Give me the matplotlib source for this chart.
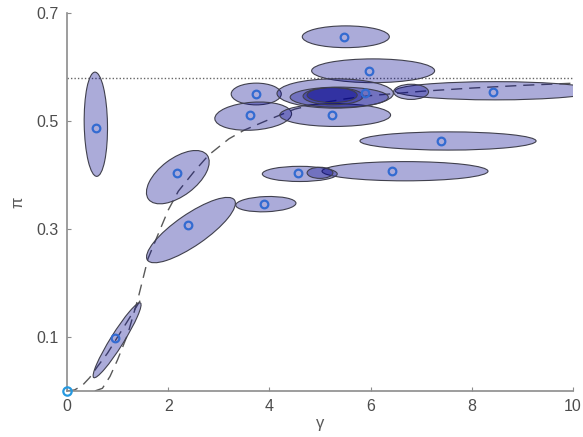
import matplotlib
matplotlib.use("Agg")
import matplotlib.pyplot as plt
from matplotlib.patches import Ellipse
from matplotlib.transforms import Affine2D
import numpy as np

plt.rcParams['font.family'] = ['Liberation Sans', 'DejaVu Sans']

# ---- data ----
# region centres (gamma, pi), major/minor axis lengths in visual gamma units, angle (deg)
ell_gamma = [0.57, 2.19, 2.45, 3.93, 0.99, 5.51, 6.05, 3.74, 3.68, 5.30, 5.30, 5.38, 5.26, 5.24, 8.46, 6.80, 7.53, 6.68, 4.60, 5.00]
ell_pi    = [0.494, 0.396, 0.298, 0.346, 0.094, 0.656, 0.593, 0.550, 0.509, 0.511, 0.551, 0.544, 0.546, 0.548, 0.556, 0.554, 0.463, 0.407, 0.402, 0.404]
ell_major = [2.06, 1.45, 2.09, 1.19, 1.74, 1.72, 2.43, 0.99, 1.52, 2.19, 2.30, 1.94, 1.19, 0.99, 3.95, 0.69, 3.48, 3.28, 1.48, 0.51]
ell_minor = [0.46, 0.74, 0.62, 0.30, 0.26, 0.43, 0.47, 0.43, 0.55, 0.45, 0.58, 0.40, 0.34, 0.30, 0.36, 0.30, 0.36, 0.38, 0.30, 0.22]
ell_angle = [91, 37, 34.6, 2, 58, 0, 0, 0, 4, 0, 0, 0, 0, 0, 0, 0, 0, 0, 0, 0]

pt_gamma = [0.573, 2.17, 2.39, 3.89, 0.95, 5.47, 5.97, 3.74, 3.62, 5.24, 5.89, 8.42, 7.39, 6.42, 4.57]
pt_pi    = [0.487, 0.404, 0.307, 0.346, 0.098, 0.656, 0.593, 0.550, 0.511, 0.511, 0.552, 0.554, 0.463, 0.407, 0.404]
origin_gamma, origin_pi = 0.0, 0.0

curveA_gamma = [0.0, 0.15, 0.3, 0.45, 0.6, 0.8, 1.0, 1.2, 1.45]
curveA_pi    = [0.0, 0.002, 0.010, 0.025, 0.045, 0.070, 0.100, 0.130, 0.168]
curveB_gamma = [0.55, 0.7, 0.85, 1.0, 1.2, 1.4, 1.6, 1.8, 2.0, 2.2, 2.5, 2.8, 3.2, 3.5, 4.0, 4.5, 5.0, 5.5, 6.0, 7.0, 8.0, 9.0, 10.0]
curveB_pi    = [0.0, 0.005, 0.027, 0.058, 0.105, 0.170, 0.245, 0.290, 0.335, 0.370, 0.405, 0.437, 0.467, 0.483, 0.503, 0.522, 0.533, 0.541, 0.547, 0.555, 0.561, 0.566, 0.570]
limit_pi = 0.58

xticks = [0, 2, 4, 6, 8, 10]
yticks = [0.1, 0.3, 0.5, 0.7]

# ---- figure ----
W, H = 583, 437
fig = plt.figure(figsize=(W / 100, H / 100), dpi=100)
L, R, B, T = 67 / W, 573 / W, (H - 391) / H, (H - 13) / H
ax = fig.add_axes([L, B, R - L, T - B])
xmin, xmax, ymin, ymax = 0, 10, 0, 0.7
ax.set_xlim(xmin, xmax)
ax.set_ylim(ymin, ymax)

# visual aspect factor: how many gamma-units one pi-unit spans on screen
ax_w = (R - L) * W
ax_h = (T - B) * H
K = (ax_h / (ymax - ymin)) / (ax_w / (xmax - xmin))
etrans = Affine2D().scale(1, 1 / K) + ax.transData

face = (0.0, 0.0, 0.55, 0.33)
edge = (0.25, 0.25, 0.30, 1.0)
for g, p, a, b, ang in zip(ell_gamma, ell_pi, ell_major, ell_minor, ell_angle):
    e = Ellipse((g, p * K), a, b, angle=ang, transform=etrans,
                facecolor=face, edgecolor=edge, linewidth=0.8, zorder=3)
    ax.add_patch(e)

ax.plot(curveA_gamma, curveA_pi, color=(0.35, 0.35, 0.35), lw=1.0, dashes=(8, 5), zorder=2)
ax.plot(curveB_gamma, curveB_pi, color=(0.35, 0.35, 0.35), lw=1.0, dashes=(8, 5), zorder=2)
ax.axhline(limit_pi, color=(0.4, 0.4, 0.4), lw=1.0, ls=(0, (1, 1.5)), zorder=2)

ax.plot(pt_gamma, pt_pi, ls='none', marker='o', ms=5.5, mfc='none',
        mec=(0.2, 0.42, 0.82), mew=1.6, zorder=5)
ax.plot([origin_gamma], [origin_pi], ls='none', marker='o', ms=6, mfc='none',
        mec=(0.15, 0.6, 0.88), mew=1.6, zorder=6, clip_on=False)

for s in ['top', 'right']:
    ax.spines[s].set_visible(False)
for s in ['left', 'bottom']:
    ax.spines[s].set_color((0.55, 0.55, 0.55))
    ax.spines[s].set_linewidth(1.2)

ax.set_xticks(xticks)
ax.set_yticks(yticks)
ax.set_xticklabels([str(v) for v in xticks])
ax.set_yticklabels([f"{v:.1f}" for v in yticks])
ax.tick_params(direction='in', length=3, width=0.8, colors=(0.55, 0.55, 0.55),
               labelcolor=(0.3, 0.3, 0.3), labelsize=11.5, pad=6)
ax.set_xlabel('γ', fontsize=12, color=(0.35, 0.35, 0.35), labelpad=1)
ax.set_ylabel('π', fontsize=12, color=(0.35, 0.35, 0.35), labelpad=8)

fig.savefig('out.png', dpi=100)
